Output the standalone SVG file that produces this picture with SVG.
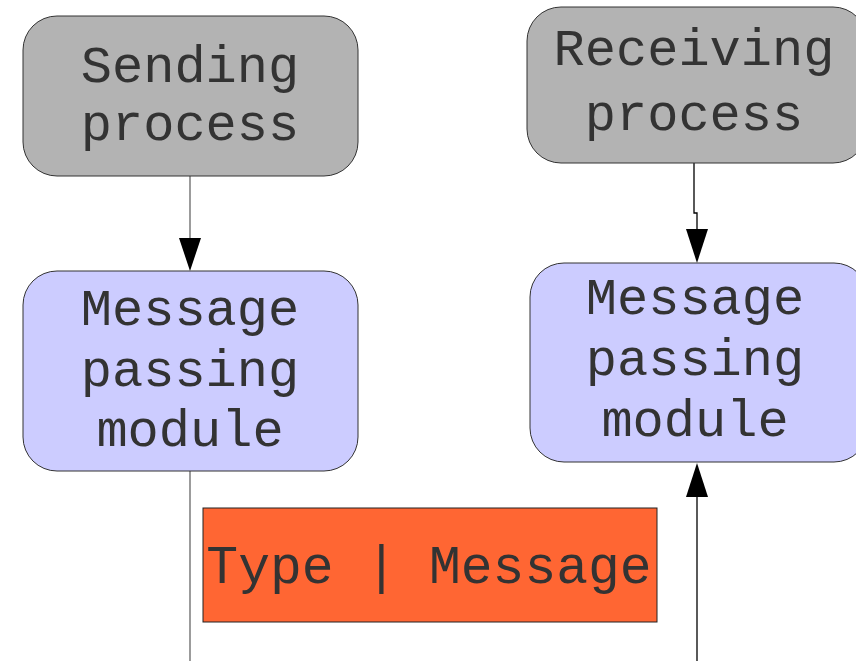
<svg xmlns="http://www.w3.org/2000/svg" width="856" height="661" viewBox="0 0 856 661">
  <style>
    .box { stroke: #333333; stroke-width: 1; }
    .proc { fill: #b3b3b3; }
    .mod { fill: #ccccff; }
    .pkt { fill: #ff6633; stroke: #222222; stroke-width: 1; }
    .lbl { font-family: "Liberation Mono", "Courier New", monospace; font-size: 52px; fill: #333333; text-anchor: middle; }
    .wire-gray { stroke: #666666; stroke-width: 1.3; fill: none; }
    .wire { stroke: #000000; stroke-width: 1.3; fill: none; }
    .head { fill: #000000; }
  </style>

  <rect width="856" height="661" fill="#ffffff"/>

  <g id="connectors">
    <!-- sending process to its module -->
    <line class="wire-gray" x1="190" y1="176" x2="190" y2="240"/>
    <polygon class="head" points="179,238 201,238 190,271"/>
    <!-- receiving module to receiving process -->
    <polyline class="wire" points="694,163 694,213 697,213 697,230"/>
    <polygon class="head" points="686,229 708,229 697,263"/>
    <!-- outgoing line below sending module -->
    <line class="wire-gray" x1="190" y1="471" x2="190" y2="661"/>
    <!-- incoming line into receiving module -->
    <line class="wire" x1="697" y1="661" x2="697" y2="494"/>
    <polygon class="head" points="686,497 708,497 697,463"/>
  </g>

  <g id="sending-process">
    <rect class="box proc" x="23" y="16" width="335" height="160" rx="34" ry="34"/>
    <text class="lbl" x="190" y="82">Sending</text>
    <text class="lbl" x="190" y="140">process</text>
  </g>

  <g id="receiving-process">
    <rect class="box proc" x="527" y="7" width="340" height="156" rx="34" ry="34"/>
    <text class="lbl" x="694" y="65">Receiving</text>
    <text class="lbl" x="694" y="130">process</text>
  </g>

  <g id="sending-module">
    <rect class="box mod" x="23" y="271" width="335" height="200" rx="34" ry="34"/>
    <text class="lbl" x="190" y="325">Message</text>
    <text class="lbl" x="190" y="386">passing</text>
    <text class="lbl" x="190" y="446">module</text>
  </g>

  <g id="receiving-module">
    <rect class="box mod" x="530" y="263" width="338" height="199" rx="34" ry="34"/>
    <text class="lbl" x="695" y="314">Message</text>
    <text class="lbl" x="695" y="375">passing</text>
    <text class="lbl" x="695" y="436">module</text>
  </g>

  <g id="packet">
    <rect class="pkt" x="203" y="508" width="454" height="114"/>
    <text class="lbl" x="429" y="583" style="font-size:53px">Type | Message</text>
  </g>
</svg>
